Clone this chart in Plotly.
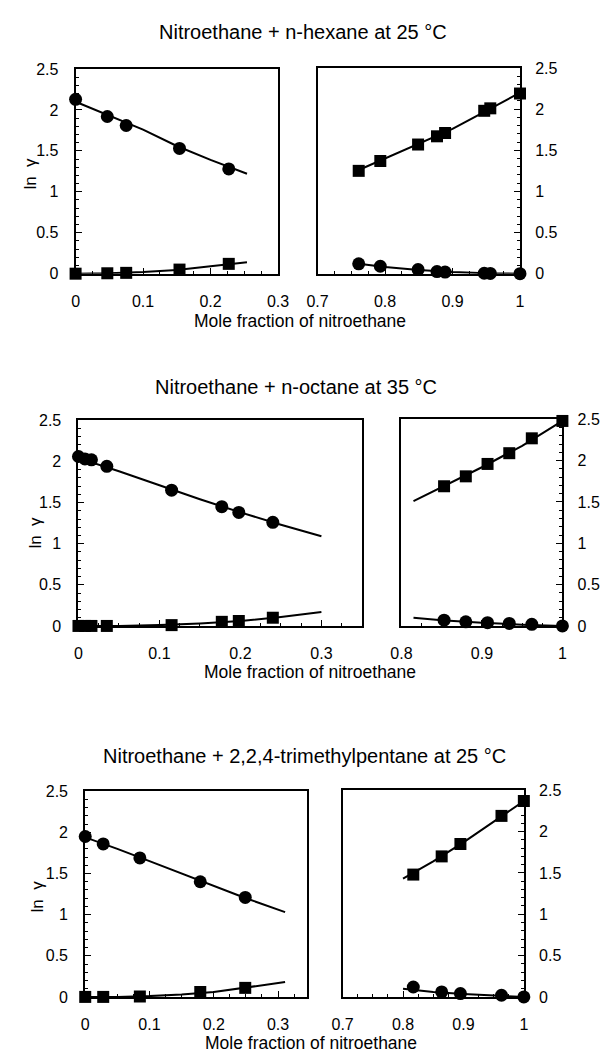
import plotly.graph_objects as go

W, H = 611, 1062

# ---------------- data ----------------
# Panel 1: Nitroethane + n-hexane at 25 C
p1L_x = [0, 0.047, 0.075, 0.154, 0.227]
p1L_circ = [2.13, 1.92, 1.81, 1.53, 1.28]
p1L_sq = [0, 0.005, 0.01, 0.05, 0.12]
p1L_fit_x = [0, 0.05, 0.1, 0.15, 0.2, 0.254]
p1L_fit_circ = [2.10, 1.93, 1.76, 1.56, 1.39, 1.22]
p1L_fit_sq = [0, 0.005, 0.02, 0.045, 0.09, 0.14]

p1R_x = [0.761, 0.793, 0.849, 0.877, 0.889, 0.947, 0.956, 1.0]
p1R_sq = [1.25, 1.37, 1.57, 1.67, 1.71, 1.98, 2.01, 2.19]
p1R_circ = [0.12, 0.09, 0.05, 0.025, 0.02, 0.005, 0.003, 0]
p1R_fit_x = [0.761, 0.8, 0.85, 0.9, 0.95, 1.0]
p1R_fit_sq = [1.26, 1.40, 1.58, 1.76, 1.98, 2.2]
p1R_fit_circ = [0.12, 0.08, 0.045, 0.02, 0.005, 0]

# Panel 2: Nitroethane + n-octane at 35 C
p2L_x = [0, 0.008, 0.016, 0.035, 0.115, 0.177, 0.198, 0.24]
p2L_circ = [2.06, 2.03, 2.02, 1.94, 1.65, 1.45, 1.38, 1.26]
p2L_sq = [0, 0, 0, 0, 0.01, 0.05, 0.06, 0.1]
p2L_fit_x = [0, 0.05, 0.1, 0.15, 0.2, 0.25, 0.3]
p2L_fit_circ = [2.04, 1.88, 1.71, 1.54, 1.38, 1.23, 1.09]
p2L_fit_sq = [0, 0, 0.01, 0.03, 0.06, 0.11, 0.17]

p2R_x = [0.853, 0.88, 0.907, 0.934, 0.962, 1.0]
p2R_sq = [1.69, 1.81, 1.96, 2.09, 2.27, 2.48]
p2R_circ = [0.07, 0.05, 0.04, 0.03, 0.02, 0]
p2R_fit_x = [0.815, 0.85, 0.9, 0.95, 1.0]
p2R_fit_sq = [1.51, 1.68, 1.92, 2.18, 2.48]
p2R_fit_circ = [0.1, 0.07, 0.04, 0.015, 0]

# Panel 3: Nitroethane + 2,2,4-trimethylpentane at 25 C
p3L_x = [0, 0.028, 0.085, 0.179, 0.249]
p3L_circ = [1.95, 1.86, 1.69, 1.40, 1.21]
p3L_sq = [0, 0, 0.005, 0.06, 0.11]
p3L_fit_x = [0, 0.05, 0.1, 0.15, 0.2, 0.25, 0.311]
p3L_fit_circ = [1.94, 1.80, 1.65, 1.50, 1.35, 1.20, 1.03]
p3L_fit_sq = [0, 0, 0.01, 0.03, 0.06, 0.11, 0.18]

p3R_x = [0.817, 0.864, 0.895, 0.963, 1.0]
p3R_sq = [1.48, 1.70, 1.85, 2.19, 2.37]
p3R_circ = [0.12, 0.06, 0.04, 0.02, 0]
p3R_fit_x = [0.8, 0.85, 0.9, 0.95, 1.0]
p3R_fit_sq = [1.43, 1.64, 1.87, 2.12, 2.37]
p3R_fit_circ = [0.1, 0.06, 0.035, 0.015, 0]

titles = ["Nitroethane + n-hexane at 25 °C",
          "Nitroethane + n-octane at 35 °C",
          "Nitroethane + 2,2,4-trimethylpentane at 25 °C"]
x_title = "Mole fraction of nitroethane"
y_title = "ln  γ"
y_ticks = [0, 0.5, 1, 1.5, 2, 2.5]

# ---------------- layout geometry (pixels) ----------------
panels = [
    # (x0, x1, ytop, ybot, xrange, xticks, yside)
    (67, 277, 62, 270, [0, 0.3], [0, 0.1, 0.2, 0.3], "left"),
    (318, 528, 61, 270, [0.7, 1.0], [0.7, 0.8, 0.9, 1], "right"),
    (70, 364, 419, 628, [0, 0.35], [0, 0.1, 0.2, 0.3], "left"),
    (405, 572, 418, 628, [0.8, 1.0], [0.8, 0.9, 1], "right"),
    (77, 307, 796, 1005, [0, 0.345], [0, 0.1, 0.2, 0.3], "left"),
    (344, 532, 795, 1005, [0.7, 1.0], [0.7, 0.8, 0.9, 1], "right"),
]

series = [
    (p1L_x, p1L_circ, p1L_sq, p1L_fit_x, p1L_fit_circ, p1L_fit_sq),
    (p1R_x, p1R_circ, p1R_sq, p1R_fit_x, p1R_fit_circ, p1R_fit_sq),
    (p2L_x, p2L_circ, p2L_sq, p2L_fit_x, p2L_fit_circ, p2L_fit_sq),
    (p2R_x, p2R_circ, p2R_sq, p2R_fit_x, p2R_fit_circ, p2R_fit_sq),
    (p3L_x, p3L_circ, p3L_sq, p3L_fit_x, p3L_fit_circ, p3L_fit_sq),
    (p3R_x, p3R_circ, p3R_sq, p3R_fit_x, p3R_fit_circ, p3R_fit_sq),
]

FONT = "Liberation Sans, Arial, sans-serif"
fig = go.Figure()
layout = dict(width=W, height=H, margin=dict(l=0, r=0, t=0, b=0),
              paper_bgcolor="white", plot_bgcolor="white", showlegend=False,
              font=dict(family=FONT, color="black", size=16))

for i, ((x0, x1, yt, yb, xr, xt, yside), s) in enumerate(zip(panels, series)):
    n = i + 1
    xa = "x" if n == 1 else f"x{n}"
    ya = "y" if n == 1 else f"y{n}"
    xs, circ, sq, fx, fc, fs = s
    fig.add_trace(go.Scatter(x=fx, y=fc, mode="lines", line=dict(color="black", width=2),
                             xaxis=xa, yaxis=ya, cliponaxis=False))
    fig.add_trace(go.Scatter(x=fx, y=fs, mode="lines", line=dict(color="black", width=2),
                             xaxis=xa, yaxis=ya, cliponaxis=False))
    fig.add_trace(go.Scatter(x=xs, y=circ, mode="markers",
                             marker=dict(symbol="circle", size=13, color="black"),
                             xaxis=xa, yaxis=ya, cliponaxis=False))
    fig.add_trace(go.Scatter(x=xs, y=sq, mode="markers",
                             marker=dict(symbol="square", size=12, color="black"),
                             xaxis=xa, yaxis=ya, cliponaxis=False))
    common = dict(showline=True, linecolor="black", linewidth=2, mirror=True,
                  ticks="inside", ticklen=6, tickwidth=1.2, tickcolor="black",
                  showgrid=False, zeroline=False, layer="below traces",
                  tickfont=dict(family=FONT, size=16, color="black"))
    layout["xaxis" if n == 1 else f"xaxis{n}"] = dict(
        common, domain=[x0 / W, x1 / W], range=xr, tickvals=xt, anchor=ya,
        minor=dict(ticks="inside", ticklen=3, dtick=0.025, tickcolor="black"),
        ticklabelstandoff=12)
    layout["yaxis" if n == 1 else f"yaxis{n}"] = dict(
        common, domain=[1 - yb / H, 1 - yt / H], range=[0, 2.5], tickvals=y_ticks,
        anchor=xa, side=yside,
        minor=dict(ticks="inside", ticklen=3, dtick=0.1, tickcolor="black"),
        ticklabelstandoff=12 if yside == "left" else 10)

annotations = []
title_pos = [(303, 24, 20), (296, 385, 20), (304, 760, 20)]
xlab_pos = [(300, 318), (310, 675), (311, 1052)]
ylab_pos = [(20, 168), (25, 533), (28, 903)]
for k in range(3):
    tx, ty, ts = title_pos[k]
    annotations.append(dict(text=titles[k], x=tx / W, y=1 - ty / H, xref="paper", yref="paper",
                            showarrow=False, xanchor="center", yanchor="middle",
                            font=dict(family=FONT, size=ts, color="black")))
    lx, ly = xlab_pos[k]
    annotations.append(dict(text=x_title, x=lx / W, y=1 - ly / H, xref="paper", yref="paper",
                            showarrow=False, xanchor="center", yanchor="middle",
                            font=dict(family=FONT, size=17.5, color="black")))
    gx, gy = ylab_pos[k]
    annotations.append(dict(text=y_title, x=gx / W, y=1 - gy / H, xref="paper", yref="paper",
                            showarrow=False, xanchor="center", yanchor="middle", textangle=-90,
                            font=dict(family=FONT, size=17, color="black")))
layout["annotations"] = annotations
fig.update_layout(**layout)
fig.write_html("out.html", config={"displayModeBar": False},
               post_script="document.body.style.margin='0';document.body.style.padding='0';")
